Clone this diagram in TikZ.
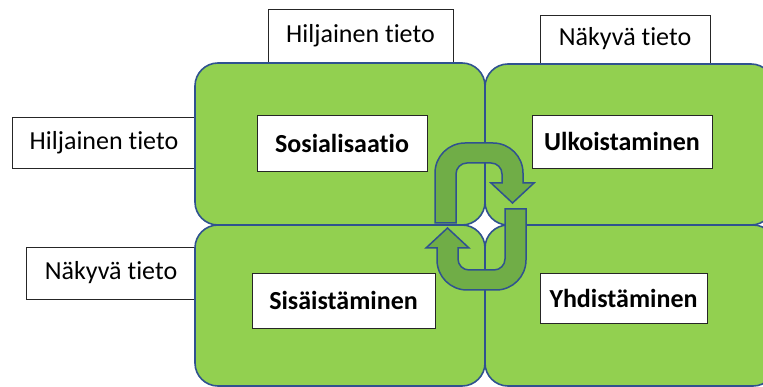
\documentclass[tikz,border=0pt]{standalone}
\usepackage{fontspec}
\setmainfont{Carlito}[Ligatures=NoCommon]
\definecolor{boxgreen}{HTML}{92D050}
\definecolor{arrowgreen}{HTML}{70AD47}
\definecolor{edgeblue}{HTML}{2F528F}
\tikzset{
  quad/.style={fill=boxgreen, draw=edgeblue, line width=1.6pt, rounded corners=23pt},
  labelbox/.style={draw=black!85, fill=white, line width=0.9pt, inner sep=0pt, font=\fontsize{26}{30}\selectfont},
  innerbox/.style={draw=black!85, fill=white, line width=0.9pt, inner sep=0pt, font=\fontsize{26}{30}\selectfont\bfseries},
  cyclearrow/.style={fill=arrowgreen, draw=edgeblue, line width=1.5pt, line join=miter}
}
\begin{document}
\begin{tikzpicture}[x=1pt,y=-1pt]
\useasboundingbox (0,0) rectangle (763,387);
\clip (0,0) rectangle (763,387);
% outer labels
\node[labelbox, minimum width=185pt, minimum height=53pt] (hTop) at (360.5,35.5) {Hiljainen tieto};
\node[labelbox, minimum width=170pt, minimum height=48pt] (nTop) at (625,39) {Näkyvä tieto};
\node[labelbox, minimum width=184pt, minimum height=51pt] (hLeft) at (104,142.5) {Hiljainen tieto};
\node[labelbox, minimum width=170pt, minimum height=52pt] (nLeft) at (111,273) {Näkyvä tieto};
% quadrants
\path[quad] (195,63) rectangle (485,225);
\path[quad] (485,64) rectangle (774,225);
\path[quad] (195,225) rectangle (485,386);
\path[quad] (485,225) rectangle (776,386);
% inner boxes
\node[innerbox, minimum width=170pt, minimum height=56pt] (soc) at (342,143) {Sosialisaatio};
\node[innerbox, minimum width=180pt, minimum height=53pt] (ext) at (622,141.5) {Ulkoistaminen};
\node[innerbox, minimum width=183pt, minimum height=55pt] (int) at (343.5,300.5) {Sisäistäminen};
\node[innerbox, minimum width=167pt, minimum height=50pt] (comb) at (623.5,298) {Yhdistäminen};
% cycle arrows
\path[cyclearrow] (435,223) [rounded corners=30pt] -- (435,143) -- (523,143) [sharp corners] -- (523,183) -- (534,183) -- (512.5,203) -- (491,183) -- (502,183) [rounded corners=11pt] -- (502,163) -- (456,163) [sharp corners] -- (456,223) -- cycle;
\path[cyclearrow] (505,209) -- (526,209) [rounded corners=30pt] -- (526,290) -- (437,290) [sharp corners] -- (437,248) -- (426,248) -- (447.5,228) -- (469,248) -- (458,248) [rounded corners=11pt] -- (458,270) -- (505,270) [sharp corners] -- cycle;
\end{tikzpicture}
\end{document}
